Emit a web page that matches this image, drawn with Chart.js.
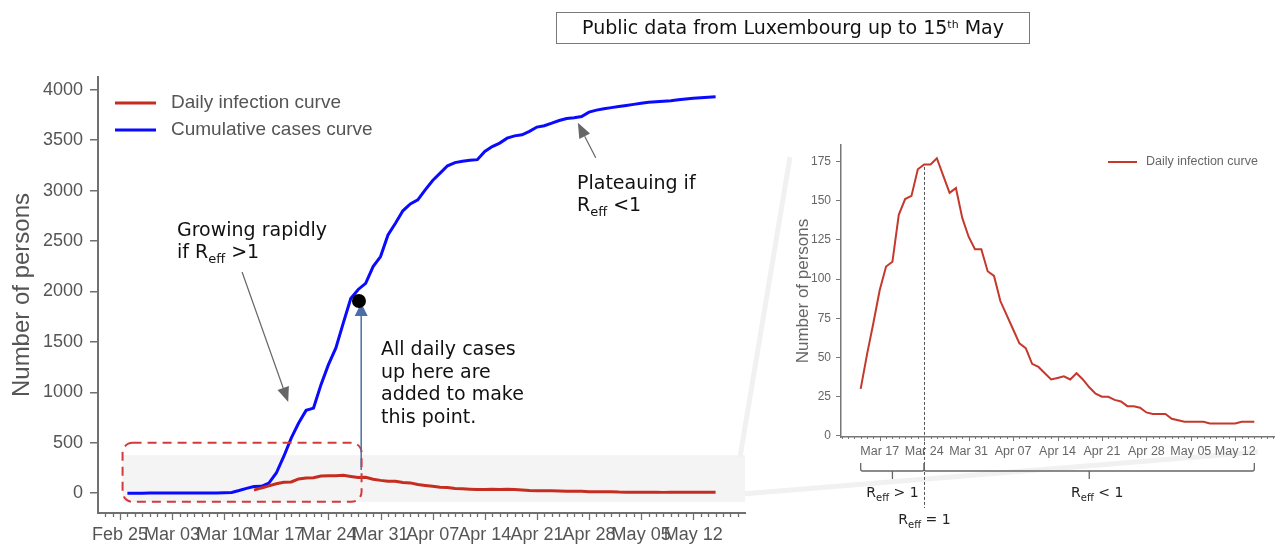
<!DOCTYPE html>
<html>
<head>
<meta charset="utf-8">
<script src="https://cdn.jsdelivr.net/npm/chart.js@4.4.1/dist/chart.umd.min.js"></script>
<style>
  body { margin: 0; background: #fff; }
  #page { position: relative; width: 1282px; height: 544px; overflow: hidden; }
  #mainChart { position: absolute; left: 0; top: 0; }
  #zoomChart { position: absolute; left: 760px; top: 130px; }
  #titleBox {
    position: absolute; left: 556px; top: 12px; width: 474px; height: 32px;
    box-sizing: border-box; border: 1.5px solid #7a7a7a;
    font: 19px 'DejaVu Sans', sans-serif; color: #111;
    text-align: center; line-height: 29px;
  }
  #titleBox sup { font-size: 11px; vertical-align: 0; position: relative; top: -6px; }
</style>
</head>
<body>
<div id="page">
  <canvas id="mainChart" width="1282" height="544"></canvas>
  <canvas id="zoomChart" width="522" height="414"></canvas>
  <div id="titleBox">Public data from Luxembourg up to 15<sup>th</sup> May</div>
</div>
<script>
// day 0 of both x axes is Feb 25 2020
const baseDay = Date.UTC(2020, 1, 25);

// weekly tick labels (one every 7 days from Feb 25)
const tickLabels = ['Feb 25', 'Mar 03', 'Mar 10', 'Mar 17', 'Mar 24', 'Mar 31',
                    'Apr 07', 'Apr 14', 'Apr 21', 'Apr 28', 'May 05', 'May 12'];
const mainYTicks = [0, 500, 1000, 1500, 2000, 2500, 3000, 3500, 4000];
const zoomYTicks = [0, 25, 50, 75, 100, 125, 150, 175];

// cumulative cases, one value per day from Feb 26 to May 15
const cumulativeStart = '2020-02-26';
const cumulativeCases = [
  0, 0, 0, 1,
  1, 1, 1, 1, 1, 1, 2, 3, 3, 5,
  7, 26, 48, 66, 68, 100, 200, 364, 546, 695, 821, 844, 1076, 1274, 1440, 1688, 1930, 2020, 2081, 2247, 2346,
  2561, 2677, 2800, 2868, 2908, 3007, 3100, 3173, 3246, 3278, 3292, 3300, 3307, 3388, 3437,
  3471, 3520, 3543, 3553, 3587, 3630, 3643, 3670, 3695, 3715, 3723, 3735, 3778, 3798, 3812,
  3823, 3835, 3845, 3855, 3866, 3875, 3880, 3886, 3891, 3900, 3908, 3915, 3920, 3925, 3930
];

// daily infection curve, one value per day from Mar 14 to May 15
const dailyStart = '2020-03-14';
const dailyCases = [
  30, 52, 72, 93, 108, 111, 141, 151, 153, 170, 173, 173, 177, 166, 155, 158, 139, 127,
  119, 119, 105, 102, 86, 77, 68, 59, 56, 46, 44, 40, 36, 37, 38, 36, 40, 36, 31, 27, 25, 25,
  23, 22, 19, 19, 18, 15, 14, 14,
  14, 11, 10, 9, 9, 9, 9, 8, 8, 8, 8, 8, 9, 9, 9
];

const RED = '#c42d20';
const BLUE = '#0a0aff';
const AXIS = '#707070';
const TICK_TEXT = '#555';
const NOTE_FONT = "'DejaVu Sans', sans-serif";
Chart.defaults.font.family = "'Liberation Sans', Arial, sans-serif";

function dayIndex(s) {
  return (Date.parse(s + 'T00:00:00Z') - baseDay) / 86400000;
}
function toPoints(start, values) {
  const d0 = dayIndex(start);
  return values.map((v, i) => ({ x: d0 + i, y: v }));
}
function weekLabel(v) {
  const k = Math.round(v / 7);
  return Math.abs(v - k * 7) < 1e-6 && tickLabels[k] ? tickLabels[k] : '';
}

// text with an "eff" subscript: parts = [[text, isSub], ...]
function richText(ctx, x, y, parts, size, align) {
  const sub = Math.round(size * 0.68);
  let w = 0;
  parts.forEach(([t, s]) => { ctx.font = (s ? sub : size) + 'px ' + NOTE_FONT; w += ctx.measureText(t).width; });
  let cx = align === 'center' ? x - w / 2 : x;
  ctx.textAlign = 'left';
  ctx.textBaseline = 'alphabetic';
  parts.forEach(([t, s]) => {
    ctx.font = (s ? sub : size) + 'px ' + NOTE_FONT;
    ctx.fillText(t, cx, y + (s ? size * 0.26 : 0));
    cx += ctx.measureText(t).width;
  });
}

function arrow(ctx, x1, y1, x2, y2, color, width, headLen, headWidth) {
  const a = Math.atan2(y2 - y1, x2 - x1);
  const bx = x2 - headLen * Math.cos(a), by = y2 - headLen * Math.sin(a);
  ctx.strokeStyle = color; ctx.lineWidth = width;
  ctx.beginPath(); ctx.moveTo(x1, y1); ctx.lineTo(bx, by); ctx.stroke();
  ctx.fillStyle = color;
  ctx.beginPath();
  ctx.moveTo(x2, y2);
  ctx.lineTo(bx + headWidth / 2 * Math.sin(a), by - headWidth / 2 * Math.cos(a));
  ctx.lineTo(bx - headWidth / 2 * Math.sin(a), by + headWidth / 2 * Math.cos(a));
  ctx.closePath(); ctx.fill();
}

// daily minor ticks and longer weekly ticks under the x axis
const dayTicks = {
  id: 'dayTicks',
  afterDraw(chart, args, o) {
    const x = chart.scales.x, ctx = chart.ctx, y0 = chart.chartArea.bottom;
    ctx.save();
    ctx.strokeStyle = o.color; ctx.lineWidth = o.width;
    for (let d = Math.ceil(x.min); d <= x.max; d++) {
      const px = Math.round(x.getPixelForValue(d)) + 0.5;
      const len = d % 7 === 0 ? o.major : o.minor;
      ctx.beginPath(); ctx.moveTo(px, y0); ctx.lineTo(px, y0 + len); ctx.stroke();
    }
    ctx.restore();
  }
};

// legend drawn inside the plot
const lineLegend = {
  id: 'lineLegend',
  afterDraw(chart, args, o) {
    const ctx = chart.ctx;
    ctx.save();
    ctx.font = o.fontSize + 'px ' + Chart.defaults.font.family;
    ctx.textBaseline = 'middle';
    ctx.textAlign = 'left';
    chart.data.datasets.forEach((ds, i) => {
      const y = o.y + i * o.rowGap;
      ctx.strokeStyle = ds.borderColor; ctx.lineWidth = ds.borderWidth;
      ctx.beginPath(); ctx.moveTo(o.x, y); ctx.lineTo(o.x + o.lineLength, y); ctx.stroke();
      ctx.fillStyle = o.color;
      ctx.fillText(ds.label, o.x + o.lineLength + o.textGap, y);
    });
    ctx.restore();
  }
};

// annotations of the big chart (values in data units)
const zoomBand = { fromDay: 0.35, low: -86, high: 377 };
const sumBox = { fromDay: 0.35, toDay: 32.45, low: -86, high: 500 };
const marker = { day: 32.1, value: 1905 };
const sumArrow = { day: 32.4, from: 230, to: 1885 };
const growArrow = { fromDay: 16.4, fromValue: 2193, toDay: 22.6, toValue: 903 };
const plateauArrow = { fromDay: 63.9, fromValue: 3325, toDay: 61.5, toValue: 3672 };
// far ends of the zoom funnel, page pixels
const funnelTop = [790, 157];
const funnelBottom = [1258, 452];

const mainNotes = {
  id: 'mainNotes',
  beforeDatasetsDraw(chart) {
    const { ctx, chartArea } = chart, x = chart.scales.x, y = chart.scales.y;
    const left = x.getPixelForValue(zoomBand.fromDay), right = chartArea.right;
    const top = y.getPixelForValue(zoomBand.high), bottom = y.getPixelForValue(zoomBand.low);
    ctx.save();
    ctx.fillStyle = '#f4f4f4';
    ctx.fillRect(left, top, right - left, bottom - top);
    ctx.strokeStyle = '#f1f1f1'; ctx.lineWidth = 5;
    ctx.beginPath(); ctx.moveTo(right - 5, top + 2); ctx.lineTo(funnelTop[0], funnelTop[1]); ctx.stroke();
    ctx.beginPath(); ctx.moveTo(right, bottom - 8); ctx.lineTo(funnelBottom[0], funnelBottom[1]); ctx.stroke();
    ctx.restore();
  },
  afterDatasetsDraw(chart) {
    const ctx = chart.ctx, x = chart.scales.x, y = chart.scales.y;
    ctx.save();
    // dashed box around the summed daily cases
    const bx1 = x.getPixelForValue(sumBox.fromDay), bx2 = x.getPixelForValue(sumBox.toDay);
    const by1 = y.getPixelForValue(sumBox.high), by2 = y.getPixelForValue(sumBox.low);
    ctx.strokeStyle = '#d43a3a'; ctx.lineWidth = 2; ctx.setLineDash([9, 6]);
    ctx.beginPath(); ctx.roundRect(bx1, by1, bx2 - bx1, by2 - by1, 10); ctx.stroke();
    ctx.setLineDash([]);
    // blue arrow up to the cumulative point
    const ax = x.getPixelForValue(sumArrow.day);
    arrow(ctx, ax, y.getPixelForValue(sumArrow.from), ax, y.getPixelForValue(sumArrow.to), '#4a6ea9', 1.5, 13, 13);
    ctx.fillStyle = '#000';
    ctx.beginPath();
    ctx.arc(x.getPixelForValue(marker.day), y.getPixelForValue(marker.value), 7, 0, Math.PI * 2);
    ctx.fill();
    // grey pointer arrows
    arrow(ctx, x.getPixelForValue(growArrow.fromDay), y.getPixelForValue(growArrow.fromValue),
      x.getPixelForValue(growArrow.toDay), y.getPixelForValue(growArrow.toValue), '#666', 1.2, 15, 12);
    arrow(ctx, x.getPixelForValue(plateauArrow.fromDay), y.getPixelForValue(plateauArrow.fromValue),
      x.getPixelForValue(plateauArrow.toDay), y.getPixelForValue(plateauArrow.toValue), '#666', 1.2, 15, 12);
    ctx.restore();
  },
  afterDraw(chart) {
    const ctx = chart.ctx;
    ctx.save();
    ctx.fillStyle = '#111';
    richText(ctx, 177, 236, [['Growing rapidly', false]], 19);
    richText(ctx, 177, 258, [['if R', false], ['eff', true], [' >1', false]], 19);
    richText(ctx, 577, 189, [['Plateauing if', false]], 19);
    richText(ctx, 577, 211, [['R', false], ['eff', true], [' <1', false]], 19);
    ['All daily cases', 'up here are', 'added to make', 'this point.'].forEach((t, i) => {
      richText(ctx, 381, 355 + i * 22.6, [[t, false]], 19);
    });
    ctx.restore();
  }
};

const mainChart = new Chart(document.getElementById('mainChart'), {
  type: 'line',
  data: {
    datasets: [
      { label: 'Daily infection curve', data: toPoints(dailyStart, dailyCases),
        borderColor: RED, borderWidth: 3, pointRadius: 0, tension: 0 },
      { label: 'Cumulative cases curve', data: toPoints(cumulativeStart, cumulativeCases),
        borderColor: BLUE, borderWidth: 3, pointRadius: 0, tension: 0 }
    ]
  },
  options: {
    responsive: false,
    animation: false,
    devicePixelRatio: 1,
    layout: { padding: { left: 0, top: 77, right: 537, bottom: 0 } },
    plugins: {
      legend: { display: false },
      tooltip: { enabled: false },
      lineLegend: { x: 115, y: 103, rowGap: 27, lineLength: 41, textGap: 15, fontSize: 19, color: '#555' },
      dayTicks: { color: AXIS, width: 1.3, major: 7, minor: 4 }
    },
    scales: {
      x: {
        type: 'linear', min: -2.95, max: 83.95,
        afterFit: s => { s.height = 31; },
        border: { color: AXIS, width: 2 },
        grid: { display: false, drawTicks: false },
        ticks: { stepSize: 7, includeBounds: false, autoSkip: false, maxRotation: 0, minRotation: 0,
                 padding: 11, color: TICK_TEXT, font: { size: 18 }, callback: weekLabel }
      },
      y: {
        min: -196.5, max: 4126.5,
        afterBuildTicks: s => { s.ticks = mainYTicks.map(v => ({ value: v })); },
        afterFit: s => { s.width = 98; },
        border: { color: AXIS, width: 2 },
        grid: { drawOnChartArea: false, tickLength: 8, tickColor: AXIS, lineWidth: 1.5 },
        ticks: { padding: 7, color: TICK_TEXT, font: { size: 18 }, callback: v => String(v) },
        title: { display: true, text: 'Number of persons', color: TICK_TEXT,
                 font: { size: 24 }, padding: { top: 8, bottom: 0 } }
      }
    }
  },
  plugins: [mainNotes, lineLegend, dayTicks]
});

// annotations of the zoomed chart
const peakDay = 28;          // Mar 24, R_eff = 1
const growStartDay = 18;     // Mar 14
const endDay = 80;           // May 15

const zoomNotes = {
  id: 'zoomNotes',
  afterDraw(chart) {
    const ctx = chart.ctx, x = chart.scales.x, y = chart.scales.y;
    const px = Math.round(x.getPixelForValue(peakDay)) + 0.5;
    ctx.save();
    ctx.strokeStyle = '#555'; ctx.lineWidth = 1; ctx.setLineDash([3, 2]);
    ctx.beginPath(); ctx.moveTo(px, y.getPixelForValue(171.5)); ctx.lineTo(px, 378); ctx.stroke();
    ctx.setLineDash([]);
    // brackets under the axis
    const yH = 341;
    ctx.strokeStyle = '#666'; ctx.lineWidth = 1.3;
    [[growStartDay, peakDay], [peakDay, endDay]].forEach(([a, b]) => {
      const x1 = x.getPixelForValue(a), x2 = x.getPixelForValue(b), m = (x1 + x2) / 2;
      ctx.beginPath();
      ctx.moveTo(x1, yH - 8); ctx.lineTo(x1, yH - 2); ctx.quadraticCurveTo(x1, yH, x1 + 2, yH);
      ctx.lineTo(x2 - 2, yH); ctx.quadraticCurveTo(x2, yH, x2, yH - 2); ctx.lineTo(x2, yH - 8);
      ctx.moveTo(m, yH); ctx.lineTo(m, yH + 8);
      ctx.stroke();
    });
    ctx.fillStyle = '#222';
    const m1 = (x.getPixelForValue(growStartDay) + x.getPixelForValue(peakDay)) / 2;
    const m2 = (x.getPixelForValue(peakDay) + x.getPixelForValue(endDay)) / 2;
    richText(ctx, m1, 367, [['R', false], ['eff', true], [' > 1', false]], 14, 'center');
    richText(ctx, m2 + 8, 367, [['R', false], ['eff', true], [' < 1', false]], 14, 'center');
    richText(ctx, px, 394, [['R', false], ['eff', true], [' = 1', false]], 14, 'center');
    ctx.restore();
  }
};

const zoomChart = new Chart(document.getElementById('zoomChart'), {
  type: 'line',
  data: {
    datasets: [
      { label: 'Daily infection curve', data: toPoints(dailyStart, dailyCases),
        borderColor: '#c4392b', borderWidth: 2, pointRadius: 0, tension: 0 }
    ]
  },
  options: {
    responsive: false,
    animation: false,
    devicePixelRatio: 1,
    layout: { padding: { left: 0, top: 15, right: 8, bottom: 77 } },
    plugins: {
      legend: { display: false },
      tooltip: { enabled: false },
      lineLegend: { x: 348, y: 32, rowGap: 20, lineLength: 29, textGap: 9, fontSize: 12.5, color: '#666' },
      dayTicks: { color: '#777', width: 1, major: 4, minor: 2 }
    },
    scales: {
      x: {
        type: 'linear', min: 14.9, max: 83.1,
        afterFit: s => { s.height = 30; },
        border: { color: '#777', width: 1.5 },
        grid: { display: false, drawTicks: false },
        ticks: { stepSize: 7, includeBounds: false, autoSkip: false, maxRotation: 0, minRotation: 0,
                 padding: 7, color: '#666', font: { size: 12.5 }, callback: weekLabel }
      },
      y: {
        min: -0.66, max: 185.46,
        afterBuildTicks: s => { s.ticks = zoomYTicks.map(v => ({ value: v })); },
        afterFit: s => { s.width = 81; },
        border: { color: '#777', width: 1.5 },
        grid: { drawOnChartArea: false, tickLength: 5, tickColor: '#777', lineWidth: 1 },
        ticks: { padding: 5, color: '#666', font: { size: 12 }, callback: v => String(v) },
        title: { display: true, text: 'Number of persons', color: '#666',
                 font: { size: 17 }, padding: { top: 33, bottom: 0 } }
      }
    }
  },
  plugins: [zoomNotes, lineLegend, dayTicks]
});
</script>
</body>
</html>
